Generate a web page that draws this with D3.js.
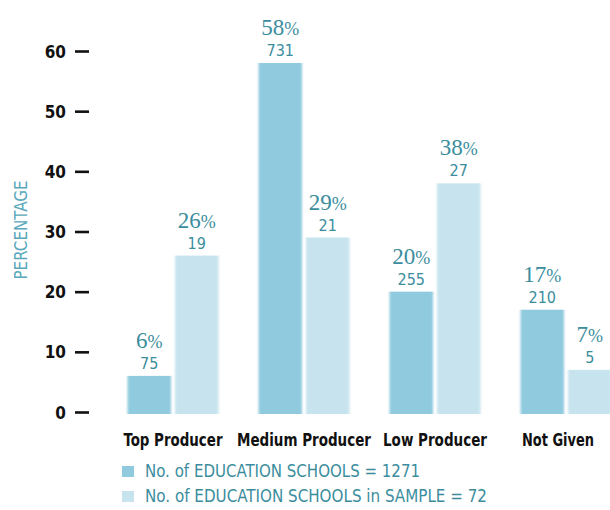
<!DOCTYPE html>
<html>
<head>
<meta charset="utf-8">
<script src="https://cdn.jsdelivr.net/npm/d3@7"></script>
<style>
  html, body { margin: 0; padding: 0; background: #fff; }
  svg { display: block; }
</style>
</head>
<body>
<div id="chart"></div>
<script>
// Education schools by producer category: share of all schools vs. share of the sample
const categories = ["Top Producer", "Medium Producer", "Low Producer", "Not Given"];
const allPct     = [6, 58, 20, 17];
const allCount   = [75, 731, 255, 210];
const samplePct  = [26, 29, 38, 7];
const sampleCount = [19, 21, 27, 5];
const yTicks = [0, 10, 20, 30, 40, 50, 60];
const seriesKeys = ["all", "sample"];
const legendLabels = [
  "No. of EDUCATION SCHOOLS = 1271",
  "No. of EDUCATION SCHOOLS in SAMPLE = 72"
];

const W = 610, H = 510;
const teal = "#3b8d9d";
const colors = { all: "#8fcadf", sample: "#c7e4ee" };
const narrow = "'Liberation Sans Narrow', 'DejaVu Sans Condensed', sans-serif";

const rows = categories.map((c, i) => ({
  category: c,
  bars: [
    { key: "all", pct: allPct[i], count: allCount[i] },
    { key: "sample", pct: samplePct[i], count: sampleCount[i] }
  ]
}));

const svg = d3.select("#chart").append("svg")
  .attr("width", W).attr("height", H);

// soft horizontal edges on the bars
const defs = svg.append("defs");
defs.append("filter").attr("id", "soft")
  .attr("x", "-10%").attr("y", "-2%").attr("width", "120%").attr("height", "104%")
  .append("feGaussianBlur").attr("stdDeviation", "1.1 0.4");

const y = d3.scaleLinear().domain([0, 60]).range([412, 51]);
const x0 = d3.scaleBand().domain(categories).range([107.5, 631.5]);
const x1 = d3.scaleBand().domain(seriesKeys).range([-45.5, 45.5]).paddingInner(0.085);

// y axis: bold numbers with short dash ticks
const yAxis = d3.axisRight(y).tickValues(yTicks).tickSize(0).tickPadding(0);
const gAxis = svg.append("g").attr("transform", "translate(75,0)").call(yAxis);
gAxis.select(".domain").remove();
gAxis.selectAll(".tick line")
  .attr("x1", 0).attr("x2", 14)
  .attr("stroke", "#111").attr("stroke-width", 2.6);
gAxis.selectAll(".tick text")
  .attr("x", -9).attr("dy", "0.36em")
  .attr("text-anchor", "end")
  .attr("fill", "#111")
  .style("font-family", narrow)
  .style("font-weight", "bold")
  .style("font-size", "17px");

svg.append("text")
  .attr("transform", "translate(27,230) rotate(-90)")
  .attr("text-anchor", "middle")
  .attr("fill", "#5aa8bb")
  .style("font-family", narrow)
  .style("font-size", "17px")
  .attr("textLength", 99)
  .attr("lengthAdjust", "spacingAndGlyphs")
  .text("PERCENTAGE");

// grouped bars
const groups = svg.append("g").selectAll("g.group")
  .data(rows).join("g")
  .attr("class", "group")
  .attr("transform", d => `translate(${x0(d.category) + x0.bandwidth() / 2},0)`);

groups.selectAll("rect")
  .data(d => d.bars).join("rect")
  .attr("x", d => x1(d.key))
  .attr("width", x1.bandwidth())
  .attr("y", d => y(d.pct))
  .attr("height", d => y(0) - y(d.pct) + 2)
  .attr("fill", d => colors[d.key])
  .attr("filter", "url(#soft)");

// percentage (serif) and count labels above each bar
const labels = groups.selectAll("g.lbl")
  .data(d => d.bars).join("g")
  .attr("class", "lbl")
  .attr("transform", d => `translate(${x1(d.key) + x1.bandwidth() / 2},${y(d.pct)})`);

const pctText = labels.append("text")
  .attr("y", -28)
  .attr("text-anchor", "middle")
  .attr("fill", teal)
  .style("font-family", "'Liberation Serif', 'DejaVu Serif', serif")
  .style("font-size", "23px");
pctText.append("tspan").text(d => d.pct);
pctText.append("tspan").style("font-size", "18px").text("%");

labels.append("text")
  .attr("y", -7)
  .attr("text-anchor", "middle")
  .attr("fill", teal)
  .style("font-family", narrow)
  .style("font-size", "16px")
  .text(d => d.count);

// category axis labels (the last one is kept clear of the right edge)
const catWidths = { "Top Producer": 99, "Medium Producer": 134, "Low Producer": 104, "Not Given": 72 };
svg.append("g").selectAll("text")
  .data(categories).join("text")
  .attr("x", d => Math.min(x0(d) + x0.bandwidth() / 2, W - catWidths[d] / 2 - 16))
  .attr("y", 446)
  .attr("text-anchor", "middle")
  .attr("fill", "#111")
  .style("font-family", narrow)
  .style("font-weight", "bold")
  .style("font-size", "17px")
  .attr("textLength", d => catWidths[d])
  .attr("lengthAdjust", "spacingAndGlyphs")
  .text(d => d);

// legend
const legendWidths = [275, 342];
const legend = svg.append("g").selectAll("g")
  .data(seriesKeys).join("g")
  .attr("transform", (d, i) => `translate(122,${466 + i * 25})`);
legend.append("rect")
  .attr("width", 12).attr("height", 11)
  .attr("fill", d => colors[d]);
legend.append("text")
  .attr("x", 23).attr("y", 11)
  .attr("fill", teal)
  .style("font-family", narrow)
  .style("font-size", "18px")
  .attr("textLength", (d, i) => legendWidths[i])
  .attr("lengthAdjust", "spacingAndGlyphs")
  .text((d, i) => legendLabels[i]);
</script>
</body>
</html>
